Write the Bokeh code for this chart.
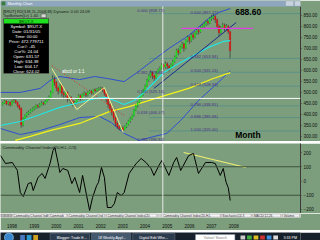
from bokeh.plotting import figure
from bokeh.layouts import column
from bokeh.models import (Range1d, FixedTicker, Label, BoxAnnotation, Span,
                          ColumnDataSource, PrintfTickFormatter)
from bokeh.core.properties import value
from bokeh.embed import file_html
from bokeh.resources import INLINE

# ---------------- data ----------------
years = ["1998", "1999", "2000", "2001", "2002", "2003", "2004", "2005", "2006", "2007", "2008"]
first_month = -2          # months since Jan 1998 of the first candle
first_open = 445.0
closes = [452, 460, 448, 455, 444, 458, 462, 455, 440, 428,
          352, 380, 395, 405, 410, 418, 425, 430, 440, 436,
          445, 452, 448, 460, 470, 478, 500, 560, 545, 520,
          505, 530, 495, 488, 500, 470, 478, 460, 448, 455,
          470, 485, 472, 490, 496, 488, 500, 505, 498, 512,
          508, 515, 518, 520, 512, 495, 470, 445, 425, 410,
          385, 360, 345, 335, 340, 330, 345, 355, 370, 380,
          395, 420, 440, 455, 470, 490, 510, 530, 555, 575,
          590, 575, 565, 590, 600, 610, 625, 615, 630, 620,
          610, 625, 640, 660, 690, 680, 705, 720, 700, 735,
          750, 735, 760, 750, 770, 780, 775, 795, 800, 810,
          820, 815, 835, 840, 845, 830, 800, 770, 795, 805,
          790, 800, 775, 688.6]
highs = [458, 466, 464, 460, 458, 465, 470, 468, 458, 445,
         432, 388, 400, 412, 418, 424, 432, 438, 446, 446,
         452, 460, 458, 466, 476, 486, 508, 580, 572, 552,
         528, 540, 535, 505, 512, 505, 488, 482, 465, 462,
         478, 492, 490, 496, 504, 500, 506, 512, 510, 516,
         518, 520, 524, 526, 524, 515, 498, 475, 450, 430,
         415, 390, 368, 352, 350, 346, 352, 362, 376, 388,
         400, 425, 446, 460, 478, 496, 516, 536, 562, 582,
         600, 596, 580, 596, 608, 618, 632, 630, 640, 636,
         625, 632, 648, 668, 698, 700, 712, 730, 726, 742,
         758, 755, 768, 772, 778, 788, 790, 802, 810, 818,
         828, 830, 842, 852, 856, 850, 835, 808, 802, 815,
         812, 810, 806, 780]
lows = [440, 448, 442, 440, 436, 440, 452, 448, 432, 420,
        340, 345, 372, 388, 398, 404, 412, 418, 424, 428,
        430, 440, 440, 444, 455, 464, 474, 496, 530, 505,
        490, 498, 480, 470, 478, 455, 462, 445, 435, 440,
        448, 465, 462, 468, 484, 478, 482, 494, 490, 494,
        500, 502, 508, 510, 502, 485, 455, 430, 410, 395,
        372, 345, 335, 328, 330, 327, 328, 338, 350, 362,
        375, 390, 415, 432, 450, 465, 485, 505, 525, 548,
        568, 560, 548, 560, 584, 594, 604, 600, 608, 605,
        595, 604, 618, 635, 655, 668, 675, 698, 685, 695,
        728, 720, 728, 738, 745, 762, 762, 770, 788, 792,
        802, 805, 810, 825, 830, 815, 790, 755, 765, 788,
        775, 782, 765, 655]

ma_fast_month = [-3.2, 7.5, 18.2, 28.9, 39.6, 47.7, 54.1, 58.4, 63.7, 69.1, 74.5, 79.8, 85.2, 93.2, 101.2, 109.3, 117.3, 121.1]
ma_fast_price = [350, 368, 400, 432, 454, 472, 477, 463, 445, 463, 500, 545, 590, 631, 667, 704, 731, 735]
ma_slow_month = [4.8, 12.9, 23.6, 39.6, 55.7, 66.4, 82.5, 98.6, 111.9, 121.1]
ma_slow_price = [282, 300, 327, 359, 413, 436, 477, 518, 563, 590]
band_up_month = [-3.2, 7.5, 18.2, 23.6, 28.9, 39.6, 47.7, 54.6, 63.7, 70.7, 77.1, 87.9, 98.6, 109.3, 114.6, 121.1]
band_up_price = [500, 500, 518, 554, 572, 558, 572, 563, 549, 590, 631, 699, 758, 835, 862, 880]
band_lo_month = [-3.2, 7.5, 18.2, 28.9, 39.6, 50.4, 56.8, 63.7, 71.8, 79.8, 86.8, 94.3, 103.9, 114.6, 121.1]
band_lo_price = [336, 309, 327, 354, 386, 391, 363, 314, 282, 300, 314, 373, 463, 545, 599]
sar_month = [24.6, 63.7]
sar_price = [622, 395]
abcd_month = [24.6, 38.0, 53.0, 63.2]
abcd_price = [608, 422, 522, 318]
trend_month = [79.8, 124.3]
trend_price = [518, 817]
resist_month = [94.8, 133.4]
resist_price = [790, 790]
fib_high = 857.27
fib_low = 325.00
fib_ratios = [0.0, 0.382, 0.5, 0.618, 0.786, 0.886, 1.0]
old_fib_text = ["0.000 (858.72)", "0.382 (573.60)", "0.500 (525.16)", "0.618 (466.47)", "0.786 (395.84)"]
old_fib_price = [870, 590, 504, 409, 286]
cross_month = 84.6
cross_price = 472.78
cross_date = "01/05"
last_price = 688.60
window_title = "Monthly Chart"
header_lines = ["[$RUT] R2(3,M,1L,2008,M)  Dynamic 0.00  24.09", "TopBottom(Lr) 1.40"]
info_title = "$RUT.X"
info_rows = ["Symbol: $RUT.X", "Date: 01/31/05", "Time: 00:00", "Price: 472.779711",
             "Cur#: -45", "Cur%: 24.04", "Open: 631.57", "High: 634.38", "Low: 604.17", "Close: 624.02"]
price_ticks = [300, 350, 400, 450, 500, 550, 600, 650, 700, 750, 800, 850]

cci_month = [-3.2, -0.5, 3.2, 5.9, 7.5, 9.1, 11.8, 13.4, 14.5, 17.1, 19.3, 20.9, 23.6, 25.2, 26.2,
             27.9, 28.9, 30.5, 33.2, 35.4, 37.0, 39.6, 41.2, 45.0, 46.6, 48.8, 49.8, 51.4, 53.0, 54.6,
             56.8, 58.4, 60.0, 62.1, 63.7, 66.4, 70.2, 72.9, 75.5, 78.2, 79.8, 82.5, 84.1, 87.9, 90.5,
             92.1, 94.3, 98.6, 101.2, 103.9, 107.7, 110.9, 113.0, 115.7, 117.3, 118.4, 118.9, 120.0, 121.1]
cci_value = [179, 123, 130, 74, -81, -109, -18, -11, -67, 25, 53, 18, 123, 214, 235,
             130, 60, 88, 74, -18, 25, -81, 39, -207, -116, -32, -11, 95, 25, -186,
             -186, -158, -81, -102, -81, 53, 123, 158, 130, 88, 39, 109, 144, 39, 130,
             165, 74, 179, 193, 53, 130, 130, 123, 39, 88, 18, -11, -46, -137]
cci_last_text = "-137.41"
cci_trend_month = [95.9, 129.6]
cci_trend_value = [200, 95]
cci_levels = [100, -100]
cci_ticks = [-200, -100, 0, 100, 200]
tabs = ["Commodity Channel Ind", "Commodi", "Commodity Channel Ind", "Commodity Channel Index(20",
        "Commodity Channel Index(20,H,L", "Stochastic(14,3", "MACD(12,26,", "Volume"]

# ---------------- layout constants ----------------
W = 320
RB = 17
PXM = 1.8667          # pixels per month
X0 = 6.0              # pixel of month 0
FW = W - RB
GREEN = "#7c9e7c"
FONT = "Liberation Sans"
TB_H = 6              # window title bar height (inside the price figure)

xr = Range1d(-X0 / PXM, (FW - X0) / PXM)

P_TOP_PX, P_H = 0, 141
P_LO, P_HI = 277.3, 300 + 136 * 4.535
C_TOP_PX, C_H = 143, 70
C_LO, C_HI = -228.1, 263.2


def mx(xpx):
    return (xpx - X0) / PXM


def py(ypx):
    return P_HI - (ypx - P_TOP_PX) * (P_HI - P_LO) / P_H


def cy(ypx):
    return C_HI - (ypx - C_TOP_PX) * (C_HI - C_LO) / C_H


def base_fig(h, x_range, y_range, bg, **kw):
    f = figure(width=W, height=h, x_range=x_range, y_range=y_range,
               output_backend="svg", toolbar_location=None,
               min_border_left=0, min_border_top=0, min_border_bottom=kw.pop("mb", 0),
               min_border_right=kw.pop("mr", 0),
               background_fill_color=bg, border_fill_color=kw.pop("border", bg),
               outline_line_color=None, **kw)
    f.grid.visible = False
    return f


def style_y(ax, ticks, fmt=None):
    ax.ticker = FixedTicker(ticks=ticks)
    if fmt:
        ax.formatter = PrintfTickFormatter(format=fmt)
    ax.major_label_text_font_size = "4.5px"
    ax.major_label_text_font = FONT
    ax.major_label_text_color = "#101010"
    ax.major_label_standoff = 2
    ax.major_tick_out = 1
    ax.major_tick_in = 0
    ax.minor_tick_out = 0
    ax.minor_tick_in = 0
    ax.axis_line_color = "#3a3a3a"
    ax.major_tick_line_color = "#3a3a3a"


def lab(fig, x, y, text, size="4.5px", color="#101010", align="left", **kw):
    fig.add_layout(Label(x=x, y=y, text=text, text_font_size=size, text_font=FONT,
                         text_color=color, text_align=align, text_baseline="middle", **kw))


# ---------------- price panel (with window title bar on top) ----------------
p = base_fig(P_H, xr, Range1d(P_LO, P_HI), GREEN, mr=RB,
             x_axis_location=None, y_axis_location="right")
style_y(p.yaxis[0], price_ticks, "%.2f")
p.yaxis[0].bounds = (P_LO, py(TB_H))

months = [first_month + i for i in range(len(closes))]
opens = [first_open] + closes[:-1]
up = dict(x=[], top=[], bottom=[], hi=[], lo=[])
dn = dict(x=[], top=[], bottom=[], hi=[], lo=[])
for m, o, c, h, l in zip(months, opens, closes, highs, lows):
    d = up if c >= o else dn
    d["x"].append(m)
    d["top"].append(max(o, c))
    d["bottom"].append(min(o, c))
    d["hi"].append(h)
    d["lo"].append(l)

# fib retracement levels
fib_prices = [fib_high - r * (fib_high - fib_low) for r in fib_ratios]
p.segment(x0=[mx(150)] * len(fib_prices), x1=[mx(FW)] * len(fib_prices), y0=fib_prices, y1=fib_prices,
          line_color="#4d8c8c", line_width=0.7)

p.line(band_up_month, band_up_price, line_color="#2f4fd0", line_width=1)
p.line(band_lo_month, band_lo_price, line_color="#2f4fd0", line_width=1)
p.line(ma_slow_month, ma_slow_price, line_color="#f2f21a", line_width=1.3)
p.line(sar_month, sar_price, line_color="#e02a2a", line_width=1, line_dash="1 2")

for d, col in ((up, "#22dd22"), (dn, "#e01010")):
    src = ColumnDataSource(d)
    p.segment(x0="x", x1="x", y0="lo", y1="hi", source=src, line_color="#2a2a2a", line_width=0.6)
    p.vbar(x="x", width=0.7, top="top", bottom="bottom", source=src,
           fill_color=col, line_color=col, line_width=0.3)

p.line(ma_fast_month, ma_fast_price, line_color="#22e6e6", line_width=1.2)
p.line(abcd_month, abcd_price, line_color="#f0f08c", line_width=1)
p.line(trend_month, trend_price, line_color="#1a2a8c", line_width=1)
p.line(resist_month, resist_price, line_color="#e040e0", line_width=1.2)

p.add_layout(Span(location=cross_price, dimension="width", line_color="white", line_width=1))
p.add_layout(Span(location=cross_month, dimension="height", line_color="#e8e8e8", line_width=1))

# window title bar
p.add_layout(BoxAnnotation(top=py(0), bottom=py(TB_H), fill_color="#8ea6be", fill_alpha=1, line_color=None))
p.add_layout(BoxAnnotation(left=mx(1), right=mx(5), top=py(1), bottom=py(5),
                           fill_color="#3d7a3d", fill_alpha=1, line_color=None))
p.add_layout(BoxAnnotation(left=mx(288), right=mx(296), top=py(0.6), bottom=py(5.4),
                           fill_color="#c9d3de", fill_alpha=1, line_color="#5f6f80", line_width=0.5))
p.add_layout(BoxAnnotation(left=mx(297), right=mx(303), top=py(0.6), bottom=py(5.4),
                           fill_color="#c9d3de", fill_alpha=1, line_color="#5f6f80", line_width=0.5))
lab(p, mx(7), py(3.2), window_title, size="4px", color="white")
lab(p, mx(305), py(3.2), " x ", size="4.5px", color="white",
    background_fill_color="#c8443a", background_fill_alpha=1)

# header texts
p.text(x=[mx(2.5), mx(2.5)], y=[py(10.6), py(15.4)], text=header_lines,
       text_font=value(FONT), text_font_size="4.1px", text_color="#1a1a1a",
       text_baseline="middle", text_align="left")
p.quad(left=[mx(41)], right=[mx(46)], bottom=[py(17.2)], top=[py(13.4)], fill_color="#d8d8d8",
       line_color="#333333", line_width=0.5)
lab(p, mx(62), py(71), "abcd or 1:1", size="4.5px", color="white")
lab(p, mx(237), py(11.8), "688.60", size="8.5px", color="black", text_font_style="bold")
lab(p, mx(237), py(134), "Month", size="8.5px", color="black", text_font_style="bold")
for r, fp in zip(fib_ratios, fib_prices):
    lab(p, mx(192), fp + 7, "%.3f (%.2f)" % (r, fp), size="4.2px", color="#4a3088")
for t, fp in zip(old_fib_text, old_fib_price):
    lab(p, mx(138), fp, t, size="4.2px", color="#4a3088")

# info box
p.add_layout(BoxAnnotation(left=mx(3), right=mx(49), top=py(18), bottom=py(73),
                           fill_color="black", fill_alpha=1, line_color="#bbbbbb", line_width=0.5))
p.add_layout(BoxAnnotation(left=mx(3.5), right=mx(48.5), top=py(18.5), bottom=py(23),
                           fill_color="#1fe01f", fill_alpha=1, line_color=None))
lab(p, mx(26), py(20.8), info_title, size="4.2px", color="#0a3a0a", align="center")
for i, row in enumerate(info_rows):
    lab(p, mx(26), py(25.5 + 5.1 * i), row, size="4.3px", color="white", align="center")

# right-axis value boxes
lab(p, mx(305), last_price, "%.2f" % last_price, size="4.3px", color="white",
    background_fill_color="#d42020", background_fill_alpha=1)
lab(p, mx(305), cross_price, "%.2f" % cross_price, size="4.3px", color="black",
    background_fill_color="white", background_fill_alpha=1)

# ---------------- separator ----------------
sep = base_fig(2, Range1d(0, 1), Range1d(0, 1), "#c8cac8", mr=RB, border=GREEN,
               x_axis_location=None, y_axis_location=None)

# ---------------- CCI panel ----------------
c = base_fig(C_H, xr, Range1d(C_LO, C_HI), GREEN, mr=RB,
             x_axis_location=None, y_axis_location="right")
style_y(c.yaxis[0], cci_ticks)
for lv in cci_levels:
    c.add_layout(Span(location=lv, dimension="width", line_color="#3e523e", line_width=1))
c.line(cci_trend_month, cci_trend_value, line_color="#f0f070", line_width=1.2)
c.line(cci_month, cci_value, line_color="black", line_width=1)
c.add_layout(Span(location=cross_month, dimension="height", line_color="#e8e8e8", line_width=1))
lab(c, mx(2), cy(146.5), "Commodity Channel Index(20,H,L,C/3)", size="4.3px", color="#1a1a1a")
lab(c, mx(305), cci_value[-1], cci_last_text, size="4.3px", color="white",
    background_fill_color="black", background_fill_alpha=1)

# ---------------- tab bar + year axis ----------------
b = base_fig(17, xr, Range1d(0, 5), "#cfd2cf", mr=RB, mb=12, border=GREEN,
             x_axis_location="below", y_axis_location=None)
xa = b.xaxis[0]
tick_pos = [12 * i + 3 for i in range(len(years))]
xa.ticker = FixedTicker(ticks=tick_pos)
xa.major_label_overrides = {t: y for t, y in zip(tick_pos, years)}
xa.major_label_text_font_size = "4.5px"
xa.major_label_text_font = FONT
xa.major_label_text_color = "#101010"
xa.major_label_standoff = 6
xa.major_tick_out = 0
xa.major_tick_in = 0
xa.minor_tick_out = 0
xa.minor_tick_in = 0
xa.axis_line_color = None
xa.major_tick_line_color = None
b.quad(left=[mx(0.5), mx(4.5), mx(8)], right=[mx(4), mx(7.5), mx(11)], bottom=[0.8] * 3, top=[4.2] * 3,
       fill_color="#b5b9b5", line_color="#6a6a6a", line_width=0.4)
tab_l = [12, 49, 68, 107, 163, 223, 255, 285]
tab_r = [47, 67, 105, 158, 222, 253, 283, 302]
b.quad(left=[mx(v) for v in tab_l], right=[mx(v) for v in tab_r], bottom=[0.6] * 8, top=[4.4] * 8,
       fill_color="#f4f4f4", line_color="#8a8a8a", line_width=0.4)
for i, t in enumerate(tabs):
    lab(b, mx(tab_l[i] + 1), 2.5, t, size="3.2px", color="#303030")
b.add_layout(Span(location=cross_month, dimension="height", line_color="#e8e8e8", line_width=1))
lab(b, cross_month, -4, cross_date, size="3.8px", color="black", align="center",
    background_fill_color="white", background_fill_alpha=1)

# ---------------- taskbar ----------------
tk = base_fig(10, Range1d(0, W), Range1d(0, 10), "#17212c", x_axis_location=None, y_axis_location=None)
tk.scatter(x=[9], y=[5], size=9, marker="circle", fill_color="#3a86cc", line_color="#a8d8ff", line_width=0.6)
tk.quad(left=[21, 28, 35], right=[26, 33, 40], bottom=[2.5] * 3, top=[7.5] * 3,
        fill_color=["#4a78c0", "#2a9ad0", "#d0a020"], line_color=None)
tk.quad(left=[53, 97, 141], right=[95, 139, 186], bottom=[1] * 3, top=[9] * 3,
        fill_color=["#2c3c4e", "#45596e", "#2c3c4e"], line_color="#6a7a8a", line_width=0.5)
for x, t in zip([60, 104, 148], ["Blogger: Trade E...", "18 Weekly Appl...", "Digital Edit Whe..."]):
    lab(tk, x, 5, t, size="3.6px", color="white")
tk.quad(left=[208], right=[250], bottom=[2], top=[8], fill_color="white", line_color="#8899aa", line_width=0.5)
lab(tk, 229, 5, "Yahoo! Search", size="3.6px", color="#777777", align="center")
tk.quad(left=[256, 263, 270, 277, 284, 291], right=[261, 268, 275, 282, 289, 296],
        bottom=[3] * 6, top=[7] * 6,
        fill_color=["#cccccc", "#40b040", "#e0c020", "#d03030", "#4090e0", "#dddddd"], line_color=None)
lab(tk, 309, 5, "3:33 PM", size="3.6px", color="white", align="center")

layout = column(p, sep, c, b, tk, spacing=0)
open("out.html", "w").write(file_html(layout, INLINE))
